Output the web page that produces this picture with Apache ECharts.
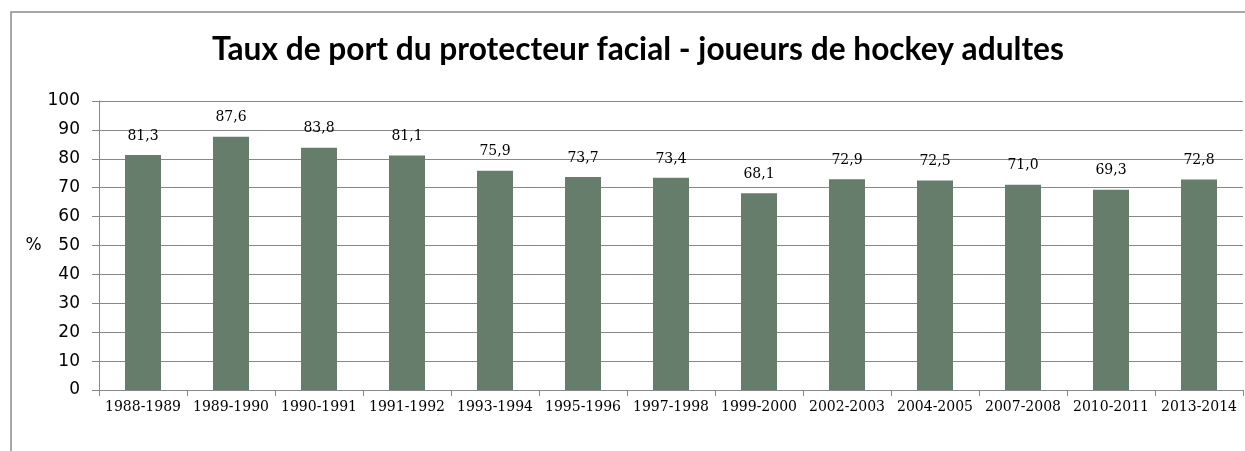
<!DOCTYPE html>
<html lang="fr">
  <head>
    <meta charset="utf-8" />
    <title>Taux de port du protecteur facial</title>
    <style>
      * {
        margin: 0;
        padding: 0;
      }
      #chart-container {
        position: relative;
        height: 451px;
        width: 1245px;
        overflow: hidden;
        background: #fff;
      }
    </style>
  </head>
  <body>
    <div id="chart-container"></div>
    <script src="https://fastly.jsdelivr.net/npm/echarts@6/dist/echarts.min.js"></script>
    <script>
      // saisons et taux (%)
      var seasons = [
        "1988-1989", "1989-1990", "1990-1991", "1991-1992", "1993-1994",
        "1995-1996", "1997-1998", "1999-2000", "2002-2003", "2004-2005",
        "2007-2008", "2010-2011", "2013-2014"
      ];
      var rates = [81.3, 87.6, 83.8, 81.1, 75.9, 73.7, 73.4, 68.1, 72.9, 72.5, 71.0, 69.3, 72.8];
      var yTicks = [0, 10, 20, 30, 40, 50, 60, 70, 80, 90, 100];

      var dom = document.getElementById("chart-container");
      var myChart = echarts.init(dom, null, { renderer: "canvas" });

      var option = {
        animation: false,
        title: {
          text: "Taux de port du protecteur facial - joueurs de hockey adultes",
          left: 207,
          top: 29,
          textStyle: {
            fontFamily: "Lato",
            fontWeight: "bold",
            fontSize: 31.7,
            color: "#000"
          }
        },
        graphic: [
          {
            type: "rect",
            shape: { x: 11, y: 12, width: 1300, height: 500 },
            style: { fill: "none", stroke: "#8a8a8a", lineWidth: 1.5 },
            silent: true
          }
        ],
        grid: { left: 99, right: 2, top: 101, bottom: 61 },
        xAxis: {
          type: "category",
          data: seasons,
          axisLine: { lineStyle: { color: "#888", width: 1 } },
          axisTick: { show: true, length: 6, lineStyle: { color: "#888" } },
          axisLabel: {
            fontFamily: "DejaVu Serif",
            fontSize: 14,
            color: "#000",
            margin: 10,
            interval: 0
          }
        },
        yAxis: {
          type: "value",
          min: yTicks[0],
          max: yTicks[yTicks.length - 1],
          interval: 10,
          name: "%",
          nameLocation: "middle",
          nameRotate: 0,
          nameGap: 56,
          nameTextStyle: { fontFamily: "DejaVu Sans", fontSize: 17, color: "#000" },
          axisLine: { show: true, lineStyle: { color: "#888", width: 1 } },
          axisTick: { show: true, length: 7, lineStyle: { color: "#888" } },
          axisLabel: {
            fontFamily: "DejaVu Sans",
            fontSize: 17,
            color: "#000",
            margin: 19
          },
          splitLine: { lineStyle: { color: "#888", width: 1 } }
        },
        series: [
          {
            type: "bar",
            data: rates,
            barWidth: 36,
            itemStyle: { color: "#667d6c" },
            label: {
              show: true,
              position: "top",
              distance: 12,
              fontFamily: "DejaVu Serif",
              fontSize: 14,
              color: "#000",
              formatter: function (p) {
                return p.value.toFixed(1).replace(".", ",");
              }
            }
          }
        ]
      };

      myChart.setOption(option);
      window.addEventListener("resize", myChart.resize);
    </script>
  </body>
</html>
